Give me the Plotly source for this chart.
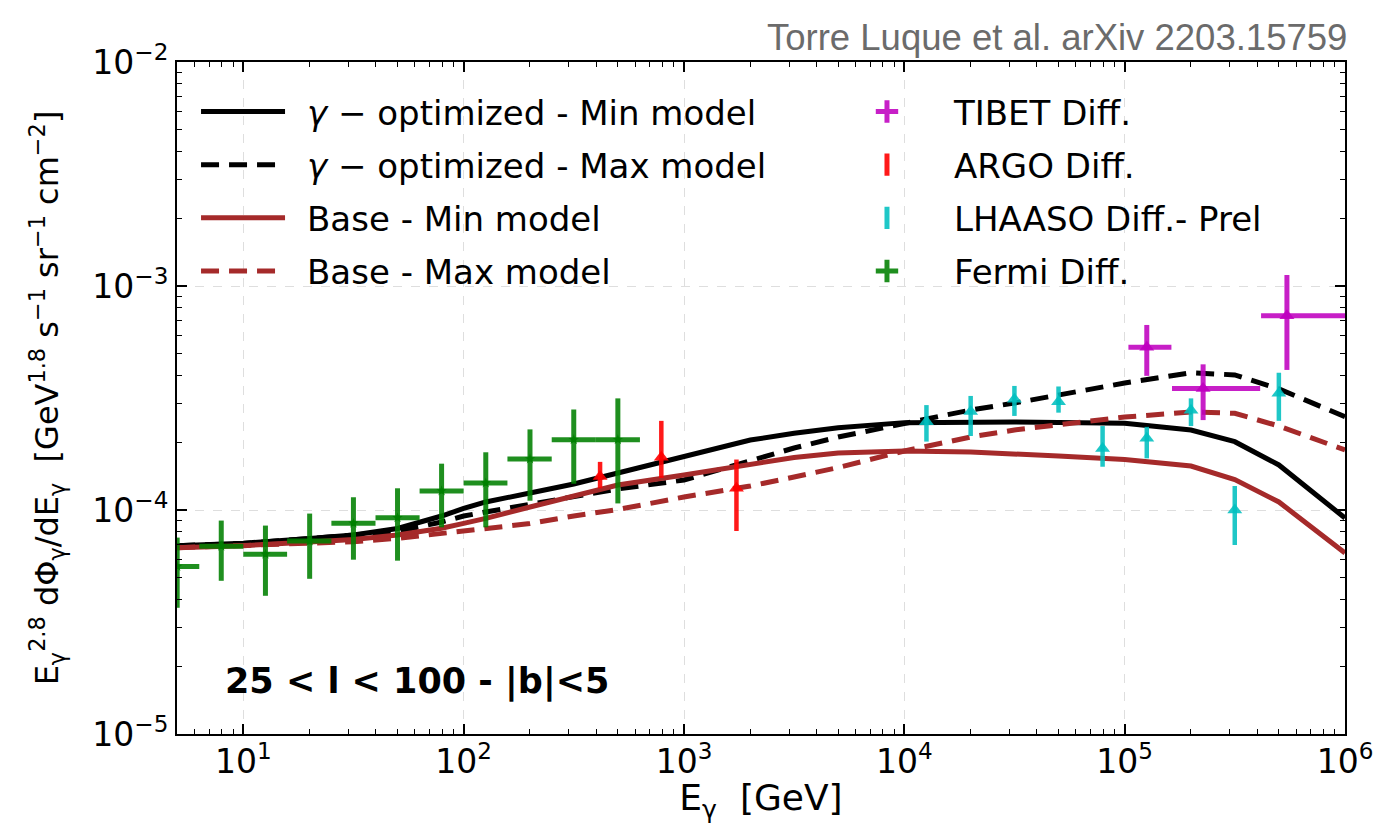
import plotly.graph_objects as go
import numpy as np

# ---------------- data ----------------
# model curves (energy grid in GeV)
model_E = [5.01, 10.0, 20.0, 31.6, 50.1, 79.4, 100.0, 126.0, 200.0, 316.0, 501.0, 1000.0, 2000.0,
           3160.0, 5010.0, 1.0e4, 2.0e4, 3.16e4, 5.01e4, 1.0e5, 2.0e5, 3.16e5, 5.01e5, 1.0e6]
gamma_min = [6.93e-5, 7.10e-5, 7.47e-5, 7.73e-5, 8.27e-5, 9.40e-5, 1.016e-4, 1.086e-4, 1.191e-4,
             1.306e-4, 1.462e-4, 1.742e-4, 2.053e-4, 2.199e-4, 2.330e-4, 2.455e-4, 2.47e-4,
             2.47e-4, 2.458e-4, 2.438e-4, 2.276e-4, 2.018e-4, 1.589e-4, 9.21e-5]
gamma_max = [6.93e-5, 7.09e-5, 7.46e-5, 7.69e-5, 8.02e-5, 8.84e-5, 9.40e-5, 9.80e-5, 1.064e-4,
             1.155e-4, 1.241e-4, 1.361e-4, 1.654e-4, 1.891e-4, 2.118e-4, 2.42e-4, 2.795e-4,
             3.004e-4, 3.262e-4, 3.69e-4, 4.10e-4, 4.01e-4, 3.47e-4, 2.61e-4]
base_min = [6.79e-5, 6.93e-5, 7.20e-5, 7.38e-5, 7.73e-5, 8.29e-5, 8.72e-5, 9.18e-5, 1.031e-4,
            1.161e-4, 1.293e-4, 1.433e-4, 1.605e-4, 1.716e-4, 1.797e-4, 1.834e-4, 1.815e-4,
            1.787e-4, 1.742e-4, 1.680e-4, 1.572e-4, 1.368e-4, 1.086e-4, 6.43e-5]
base_max = [6.79e-5, 6.93e-5, 7.09e-5, 7.22e-5, 7.47e-5, 7.87e-5, 8.02e-5, 8.29e-5, 8.70e-5,
            9.40e-5, 1.005e-4, 1.143e-4, 1.28e-4, 1.404e-4, 1.548e-4, 1.834e-4, 2.118e-4,
            2.276e-4, 2.395e-4, 2.60e-4, 2.738e-4, 2.702e-4, 2.371e-4, 1.853e-4]

# Fermi diffuse
fermi_E = [5.01, 7.94, 12.6, 20.0, 31.6, 50.1, 79.4, 126.0, 200.0, 316.0, 501.0]
fermi_Elo = [3.98, 6.31, 10.0, 15.8, 25.1, 39.8, 63.1, 100.0, 158.0, 251.0, 398.0]
fermi_Ehi = [6.31, 10.0, 15.8, 25.1, 39.8, 63.1, 100.0, 158.0, 251.0, 398.0, 631.0]
fermi_F = [5.60e-5, 6.89e-5, 6.34e-5, 7.27e-5, 8.72e-5, 9.23e-5, 1.217e-4, 1.32e-4, 1.69e-4, 2.06e-4, 2.06e-4]
fermi_Fhi = [7.53e-5, 8.97e-5, 8.52e-5, 9.64e-5, 1.14e-4, 1.25e-4, 1.61e-4, 1.81e-4, 2.29e-4, 2.81e-4, 3.15e-4]
fermi_Flo = [3.66e-5, 4.83e-5, 4.14e-5, 4.93e-5, 6.00e-5, 5.94e-5, 8.37e-5, 8.37e-5, 1.10e-4, 1.31e-4, 1.07e-4]

# ARGO-YBJ diffuse
argo_E = [416.0, 789.0, 1730.0]
argo_F = [1.41e-4, 1.72e-4, 1.25e-4]
argo_Fhi = [1.64e-4, 2.50e-4, 1.68e-4]
argo_Flo = [1.25e-4, 1.39e-4, 8.06e-5]

# LHAASO diffuse (preliminary)
lhaaso_E = [1.26e4, 2.0e4, 3.16e4, 5.01e4, 7.94e4, 1.26e5, 2.0e5, 3.16e5, 5.01e5]
lhaaso_F = [2.48e-4, 2.75e-4, 3.12e-4, 3.04e-4, 1.88e-4, 2.09e-4, 2.79e-4, 1.00e-4, 3.32e-4]
lhaaso_Fhi = [2.94e-4, 3.23e-4, 3.58e-4, 3.56e-4, 2.37e-4, 2.35e-4, 3.15e-4, 1.28e-4, 4.10e-4]
lhaaso_Flo = [2.02e-4, 2.14e-4, 2.63e-4, 2.72e-4, 1.56e-4, 1.70e-4, 2.37e-4, 6.98e-5, 2.50e-4]

# Tibet AS-gamma diffuse
tibet_E = [1.26e5, 2.27e5, 5.45e5]
tibet_Elo = [1.04e5, 1.64e5, 4.16e5]
tibet_Ehi = [1.63e5, 4.12e5, 1.2e6]
tibet_F = [5.33e-4, 3.49e-4, 7.37e-4]
tibet_Fhi = [6.70e-4, 4.47e-4, 1.12e-3]
tibet_Flo = [3.97e-4, 2.52e-4, 4.22e-4]

x_ticks = [10, 100, 1000, 1e4, 1e5, 1e6]
x_ticktext = ["10<sup>1</sup>", "10<sup>2</sup>", "10<sup>3</sup>", "10<sup>4</sup>", "10<sup>5</sup>", "10<sup>6</sup>"]
y_ticks = [1e-5, 1e-4, 1e-3, 1e-2]
y_ticktext = ["10<sup>−5</sup>", "10<sup>−4</sup>", "10<sup>−3</sup>", "10<sup>−2</sup>"]

# ---------------- colours ----------------
BROWN = "#a52a2a"
GREEN = "rgba(0,128,0,0.88)"
RED = "rgba(255,0,0,0.9)"
CYAN = "rgba(0,191,191,0.88)"
MAGENTA = "rgba(191,0,191,0.88)"
FONT = "DejaVu Sans"
DASH = "18px,10px"


def errs(v, hi, lo):
    v = np.array(v)
    return list(np.array(hi) - v), list(v - np.array(lo))


fig = go.Figure()

SP = "\u2002"
# model lines
lines = [
    (SP + "<i>γ</i> − optimized - Min model", gamma_min, "black", "solid"),
    (SP + "<i>γ</i> − optimized - Max model", gamma_max, "black", DASH),
    (SP + "Base - Min model", base_min, BROWN, "solid"),
    (SP + "Base - Max model", base_max, BROWN, DASH),
]
for i, (name, ys, col, dash) in enumerate(lines):
    fig.add_trace(go.Scatter(x=model_E, y=ys, mode="lines", name=name,
                             line=dict(color=col, width=5, dash=dash),
                             legend="legend", legendgroup=f"l{i}"))


def add_data(E, F, Fhi, Flo, color, symbol, size, Elo=None, Ehi=None, thick=4.5):
    up, dn = errs(F, Fhi, Flo)
    ex = None
    if Elo is not None:
        xp, xm = errs(E, Ehi, Elo)
        ex = dict(type="data", array=xp, arrayminus=xm, color=color, thickness=thick, width=0)
    fig.add_trace(go.Scatter(x=E, y=F, mode="markers", showlegend=False,
                             marker=dict(color=color, symbol=symbol, size=size),
                             error_y=dict(type="data", array=up, arrayminus=dn, color=color,
                                          thickness=thick, width=0),
                             error_x=ex))


add_data(fermi_E, fermi_F, fermi_Fhi, fermi_Flo, GREEN, "star", 8, fermi_Elo, fermi_Ehi, 5)
add_data(argo_E, argo_F, argo_Fhi, argo_Flo, RED, "triangle-up", 13, thick=4.5)
add_data(lhaaso_E, lhaaso_F, lhaaso_Fhi, lhaaso_Flo, CYAN, "triangle-up", 13, thick=4.5)
add_data(tibet_E, tibet_F, tibet_Fhi, tibet_Flo, MAGENTA, "triangle-up", 13, tibet_Elo, tibet_Ehi, 5)

# legend entries for the data sets (second legend column)
leg2 = [("TIBET Diff.", MAGENTA, "cross-thin"),
        ("ARGO Diff.", RED, "line-ns"),
        ("LHAASO Diff.- Prel", CYAN, "line-ns"),
        ("Fermi Diff.", GREEN, "cross-thin")]
for i, (name, col, sym) in enumerate(leg2):
    fig.add_trace(go.Scatter(x=[None], y=[None], mode="markers", name=name,
                             marker=dict(symbol=sym, size=16, color=col,
                                         line=dict(color=col, width=5)),
                             legend="legend2", legendgroup=f"d{i}"))

minor_vals_x = [m * 10 ** k for k in range(0, 6) for m in range(2, 10)]
minor_vals_y = [m * 10.0 ** k for k in range(-5, -2) for m in range(2, 10)]

axis_common = dict(type="log", ticks="inside", ticklen=10, tickwidth=1.5, tickcolor="black",
                   showline=True, linecolor="black", linewidth=2, mirror="allticks",
                   showgrid=True, gridcolor="#dedede", griddash="dash", gridwidth=1,
                   zeroline=False, tickfont=dict(family=FONT, size=33, color="black"))

fig.update_xaxes(**axis_common, range=[np.log10(5), 6], tickvals=x_ticks, ticktext=x_ticktext,
                 ticklabelstandoff=-3,
                 minor=dict(ticks="inside", ticklen=5, tickcolor="black", tickwidth=1,
                            tickvals=minor_vals_x, showgrid=False),
                 title=dict(text="E<sub>γ</sub>  [GeV]", font=dict(family=FONT, size=36, color="black"),
                            standoff=7))
fig.update_yaxes(**axis_common, range=[-5, -2], tickvals=y_ticks, ticktext=y_ticktext,
                 minor=dict(ticks="inside", ticklen=5, tickcolor="black", tickwidth=1,
                            tickvals=minor_vals_y, showgrid=False),
                 title=dict(text="E<sub>γ</sub><sup>2.8</sup> dΦ<sub>γ</sub>/dE<sub>γ</sub>  "
                                 "[GeV<sup>1.8</sup> s<sup>−1</sup> sr<sup>−1</sup> cm<sup>−2</sup>]",
                            font=dict(family=FONT, size=32, color="black"), standoff=24))

legend_font = dict(family=FONT, size=34, color="black")
fig.update_layout(
    width=1397, height=824,
    margin=dict(l=177, r=52, t=62, b=90),
    plot_bgcolor="white", paper_bgcolor="white",
    font=dict(family=FONT, color="black"),
    legend=dict(x=0.0163, y=0.969, xanchor="left", yanchor="top", bgcolor="rgba(0,0,0,0)",
                font=legend_font, itemwidth=84, traceorder="grouped", tracegroupgap=6),
    legend2=dict(x=0.5505, y=0.969, xanchor="left", yanchor="top", bgcolor="rgba(0,0,0,0)",
                 font=legend_font, itemwidth=124, traceorder="grouped", tracegroupgap=6),
    annotations=[
        dict(text="Torre Luque et al. arXiv 2203.15759", xref="paper", yref="paper",
             x=1.0034, y=1.0, xanchor="right", yanchor="bottom", yshift=2, showarrow=False,
             font=dict(family="Liberation Sans", size=36.5, color="#6b6b6b")),
        dict(text="<b>25 < l < 100 - |b|<5</b>", xref="paper", yref="paper",
             x=0.039, y=0.078, xanchor="left", yanchor="middle", showarrow=False,
             font=dict(family=FONT, size=35, color="black")),
    ],
)

fig.write_html("out.html")
